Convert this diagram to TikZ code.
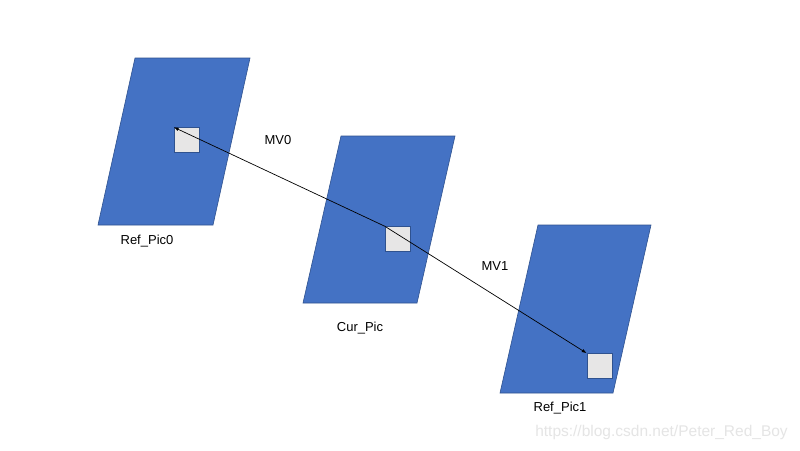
\documentclass[tikz,border=0pt]{standalone}
\usepackage{fontspec}
\setmainfont{Liberation Sans}
\usetikzlibrary{arrows.meta}
\definecolor{picblue}{HTML}{4472C4}
\definecolor{picedge}{HTML}{2F528F}
\definecolor{blkgray}{HTML}{E7E6E6}
\tikzset{
  frame/.style={fill=picblue,draw=picedge,line width=0.6pt},
  blk/.style={draw=picedge,fill=blkgray,line width=0.6pt,minimum size=25pt,inner sep=0pt},
  lbl/.style={font=\fontsize{13}{15}\selectfont,inner sep=0pt},
  mv/.style={line width=0.7pt,-{Latex[length=5pt,width=3.5pt]}}
}
\begin{document}
\begin{tikzpicture}[x=1pt,y=-1pt]
\useasboundingbox[fill=white] (0,0) rectangle (800,450);
\draw[frame] (135,58) -- (250,58) -- (213,225) -- (98,225) -- cycle;
\draw[frame] (341,136) -- (455,136) -- (417,303) -- (303,303) -- cycle;
\draw[frame] (538,225) -- (651,225) -- (613,393) -- (500,393) -- cycle;

\node[blk] (b0) at (186.5,140) {};
\node[blk] (b1) at (397.5,239) {};
\node[blk] (b2) at (599.5,366) {};

\draw[mv] (b1.north west) -- (b0.north west);
\draw[mv] (b1.north west) -- (b2.north west);

\node[lbl] (ref0) at (147,241) {Ref\_Pic0};
\node[lbl] (cur) at (360,328) {Cur\_Pic};
\node[lbl] (ref1) at (560,408) {Ref\_Pic1};
\node[lbl] (mv0) at (278,140) {MV0};
\node[lbl] (mv1) at (495,266) {MV1};
\node[lbl,font=\fontsize{15.5}{18}\selectfont,text=black!10] (mark) at (661.5,432) {https://blog.csdn.net/Peter\_Red\_Boy};
\end{tikzpicture}
\end{document}
